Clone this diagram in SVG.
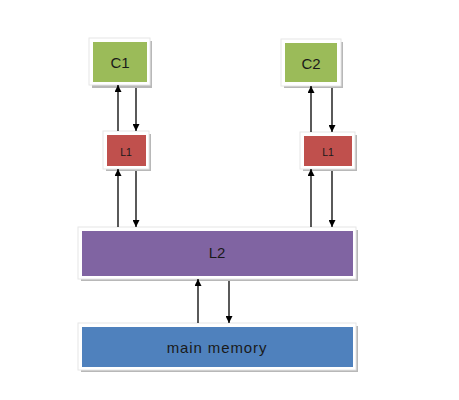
<svg xmlns="http://www.w3.org/2000/svg" width="459" height="400" viewBox="0 0 459 400">
<style>
.sh{fill:#b8b8b8}
.fr{fill:#ffffff;stroke:#e6e6e6;stroke-width:1}
.t{font-family:"Liberation Sans",Arial,sans-serif;fill:#1a1a1a;text-anchor:middle;dominant-baseline:central}
.ln{stroke:#000;stroke-width:1.3;fill:none;marker-end:url(#ah)}
</style>
<defs>
<marker id="ah" viewBox="0 0 10 10" refX="10" refY="5" markerWidth="7" markerHeight="7" markerUnits="userSpaceOnUse" orient="auto">
<path d="M0,0 L10,5 L0,10 z" fill="#000"/>
</marker>
</defs>
<rect width="459" height="400" fill="#fff"/>
<g id="c1">
<rect class="sh" x="92" y="41" width="60" height="47"/>
<rect class="fr" x="89" y="38" width="61" height="47"/>
<rect x="93" y="42" width="54" height="40" fill="#9bbb59"/>
<text class="t" x="120" y="62" font-size="15">C1</text>
</g>
<g id="c2">
<rect class="sh" x="284" y="42" width="59" height="46"/>
<rect class="fr" x="281" y="39" width="60" height="47"/>
<rect x="285" y="43" width="52" height="39" fill="#9bbb59"/>
<text class="t" x="311" y="63" font-size="15">C2</text>
</g>
<g id="l1a">
<rect class="sh" x="106" y="134" width="45" height="37" fill="#c9a5a5"/>
<rect class="fr" x="103" y="131" width="46" height="38"/>
<rect x="107" y="135" width="39" height="31" fill="#c0504d"/>
<text class="t" x="126" y="152" font-size="10.5">L1</text>
</g>
<g id="l1b">
<rect class="sh" x="303" y="135" width="54" height="36"/>
<rect class="fr" x="300" y="132" width="55" height="37"/>
<rect x="304" y="136" width="48" height="30" fill="#c0504d"/>
<text class="t" x="328" y="152" font-size="10.5">L1</text>
</g>
<g id="l2">
<rect class="sh" x="81" y="230" width="277" height="51"/>
<rect class="fr" x="78" y="227" width="278" height="52"/>
<rect x="82" y="231" width="271" height="45" fill="#8064a2"/>
<text class="t" x="217" y="252" font-size="15">L2</text>
</g>
<g id="mem">
<rect class="sh" x="81" y="326" width="277" height="46"/>
<rect class="fr" x="78" y="323" width="278" height="47"/>
<rect x="82" y="327" width="271" height="40" fill="#4f81bd"/>
<text class="t" x="217" y="347" font-size="15" letter-spacing="0.9">main memory</text>
</g>
<g id="connectors">
<line class="ln" x1="118" y1="131" x2="118" y2="85"/>
<line class="ln" x1="136" y1="88" x2="136" y2="131"/>
<line class="ln" x1="118" y1="227" x2="118" y2="169"/>
<line class="ln" x1="136" y1="171" x2="136" y2="227"/>
<line class="ln" x1="311" y1="132" x2="311" y2="86"/>
<line class="ln" x1="332" y1="88" x2="332" y2="132"/>
<line class="ln" x1="311" y1="227" x2="311" y2="169"/>
<line class="ln" x1="332" y1="171" x2="332" y2="227"/>
<line class="ln" x1="198" y1="323" x2="198" y2="279"/>
<line class="ln" x1="229" y1="281" x2="229" y2="323"/>
</g>
</svg>
